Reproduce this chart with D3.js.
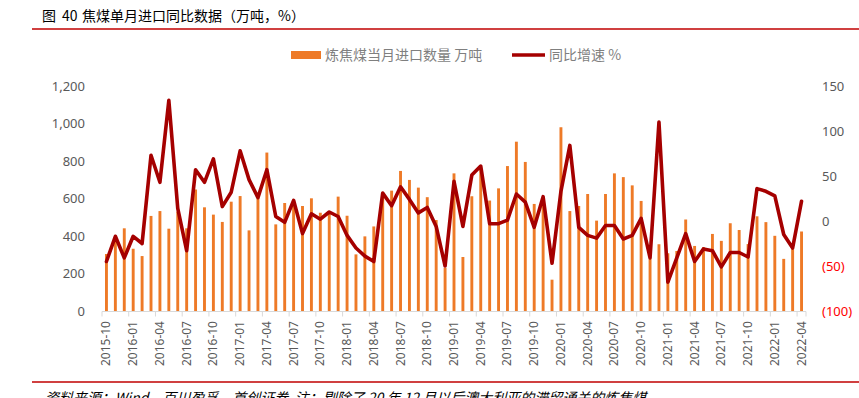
<!DOCTYPE html>
<html><head><meta charset="utf-8">
<script src="https://cdn.jsdelivr.net/npm/d3@7"></script>
<style>
html,body{margin:0;padding:0;background:#fff;}
svg{display:block;}
</style></head>
<body>
<svg id="c" width="859" height="398"></svg>
<script>
const months = ["2015-10","2015-11","2015-12",
"2016-01","2016-02","2016-03","2016-04","2016-05","2016-06","2016-07","2016-08","2016-09","2016-10","2016-11","2016-12",
"2017-01","2017-02","2017-03","2017-04","2017-05","2017-06","2017-07","2017-08","2017-09","2017-10","2017-11","2017-12",
"2018-01","2018-02","2018-03","2018-04","2018-05","2018-06","2018-07","2018-08","2018-09","2018-10","2018-11","2018-12",
"2019-01","2019-02","2019-03","2019-04","2019-05","2019-06","2019-07","2019-08","2019-09","2019-10","2019-11","2019-12",
"2020-01","2020-02","2020-03","2020-04","2020-05","2020-06","2020-07","2020-08","2020-09","2020-10","2020-11","2020-12",
"2021-01","2021-02","2021-03","2021-04","2021-05","2021-06","2021-07","2021-08","2021-09","2021-10","2021-11","2021-12",
"2022-01","2022-02","2022-03","2022-04"];

const imports = [304,395,441,332,293,507,533,439,530,441,648,553,514,475,583,613,430,600,845,462,576,565,560,601,524,530,610,508,302,398,451,625,642,747,699,658,607,485,230,734,288,612,760,589,654,773,903,795,571,600,167,980,533,560,624,482,624,734,714,670,587,280,356,308,320,488,347,340,411,374,468,432,357,505,474,401,278,330,424];

const yoy = [-45,-17,-41,-17,-25,73,43,134,14,-33,57,43,69,16,32,78,46,26,57,5,-1.5,23,-14,8,2,10,5,-16,-30,-39,-45,31,17,38,24,9,15,-6,-50,44,-6,51,61,-3,-3,1,30,21,-7,27,-47,33,84,-7,-16,-19,-5,-5,-20,-16,3,-41,110,-68,-41,-14,-45,-31,-33,-51,-35,-35,-40,36,33,28,-15,-30,22];

const leftTicks = [0,200,400,600,800,1000,1200];
const rightTicks = [-100,-50,0,50,100,150];

const titleParts = ["图", "40", "焦煤单月进口同比数据（万吨，%）"];
const barName = "炼焦煤当月进口数量 万吨";
const lineName = "同比增速 %";
const source = "资料来源：Wind，百川盈孚，首创证券  注：剔除了 20 年 12 月以后澳大利亚的滞留通关的炼焦煤";

const svg = d3.select("#c");
const numFont = "'Noto Sans', 'DejaVu Sans', sans-serif";
const cjkFont = "'Noto Sans CJK SC', 'Noto Sans', sans-serif";
const BAR = "#EE7A27", LINE = "#A50000", GREY = "#595959";

const x = d3.scaleBand().domain(months).range([102, 806]).paddingInner(0).paddingOuter(0);
const yL = d3.scaleLinear().domain([0, 1200]).range([311, 86]);
const yR = d3.scaleLinear().domain([-100, 150]).range([311, 86]);

// title + rules
const t = svg.append("text").attr("y", 21).attr("font-family", cjkFont)
  .attr("font-size", 14).attr("fill", "#000");
[42, 62, 82].forEach((px, k) => t.append("tspan").attr("x", px).text(titleParts[k]));
svg.append("line").attr("x1", 32).attr("x2", 859).attr("y1", 29).attr("y2", 29)
  .attr("stroke", "#C00000").attr("stroke-width", 1.5);
svg.append("line").attr("x1", 32).attr("x2", 859).attr("y1", 382).attr("y2", 382)
  .attr("stroke", "#C00000").attr("stroke-width", 1.5);
svg.append("text").attr("x", 45).attr("y", 403).attr("font-family", cjkFont)
  .attr("font-size", 14).attr("font-style", "italic").attr("fill", "#000")
  .attr("xml:space", "preserve").style("white-space", "pre").text(source);

// legend
svg.append("rect").attr("x", 291).attr("y", 51).attr("width", 30).attr("height", 8).attr("fill", BAR);
svg.append("text").attr("x", 325).attr("y", 60).attr("font-family", cjkFont).attr("font-size", 14)
  .attr("fill", "#7F7F7F").text(barName);
svg.append("line").attr("x1", 512).attr("x2", 545).attr("y1", 55).attr("y2", 55)
  .attr("stroke", LINE).attr("stroke-width", 3.5);
svg.append("text").attr("x", 549).attr("y", 60).attr("font-family", cjkFont).attr("font-size", 14)
  .attr("fill", "#7F7F7F").text(lineName);

// bars
const bw = 2.9;
svg.append("g").selectAll("rect").data(months).join("rect")
  .attr("x", (d) => x(d) + x.bandwidth() / 2 - bw / 2)
  .attr("width", bw)
  .attr("y", (d, i) => yL(imports[i]))
  .attr("height", (d, i) => yL(0) - yL(imports[i]))
  .attr("fill", BAR);

// x axis
const xAxis = svg.append("g");
xAxis.append("line").attr("x1", 102).attr("x2", 806).attr("y1", 311.5).attr("y2", 311.5)
  .attr("stroke", "#D9D9D9").attr("stroke-width", 1);
const tickIdx = months.map((m, i) => i).filter(i => i % 3 === 0);
xAxis.selectAll("line.tk").data(tickIdx.concat([months.length])).join("line").attr("class", "tk")
  .attr("x1", i => i < months.length ? x(months[i]) : x.range()[1])
  .attr("x2", i => i < months.length ? x(months[i]) : x.range()[1])
  .attr("y1", 311.5).attr("y2", 316.5).attr("stroke", "#D9D9D9");
xAxis.selectAll("text").data(tickIdx).join("text")
  .attr("transform", i => `translate(${x(months[i]) + x.bandwidth() / 2 + 4},321) rotate(-90)`)
  .attr("text-anchor", "end").attr("font-family", numFont).attr("font-size", 12)
  .attr("fill", GREY).text(i => months[i]);

// left axis labels
svg.append("g").selectAll("text").data(leftTicks).join("text")
  .attr("x", 85).attr("y", d => yL(d) + 4.5).attr("text-anchor", "end")
  .attr("font-family", numFont).attr("font-size", 13).attr("fill", GREY)
  .text(d => d3.format(",")(d));

// right axis labels
svg.append("g").selectAll("text").data(rightTicks).join("text")
  .attr("x", 822).attr("y", d => yR(d) + 4.5).attr("text-anchor", "start")
  .attr("font-family", numFont).attr("font-size", 13)
  .attr("fill", d => d < 0 ? "#FF0000" : GREY)
  .text(d => d < 0 ? `(${Math.abs(d)})` : d);

// line
const line = d3.line().x((d, i) => x(months[i]) + x.bandwidth() / 2).y(d => yR(d));
svg.append("path").datum(yoy).attr("d", line).attr("fill", "none")
  .attr("stroke", LINE).attr("stroke-width", 3.6).attr("stroke-linejoin", "round").attr("stroke-linecap", "round");
</script>
</body></html>
